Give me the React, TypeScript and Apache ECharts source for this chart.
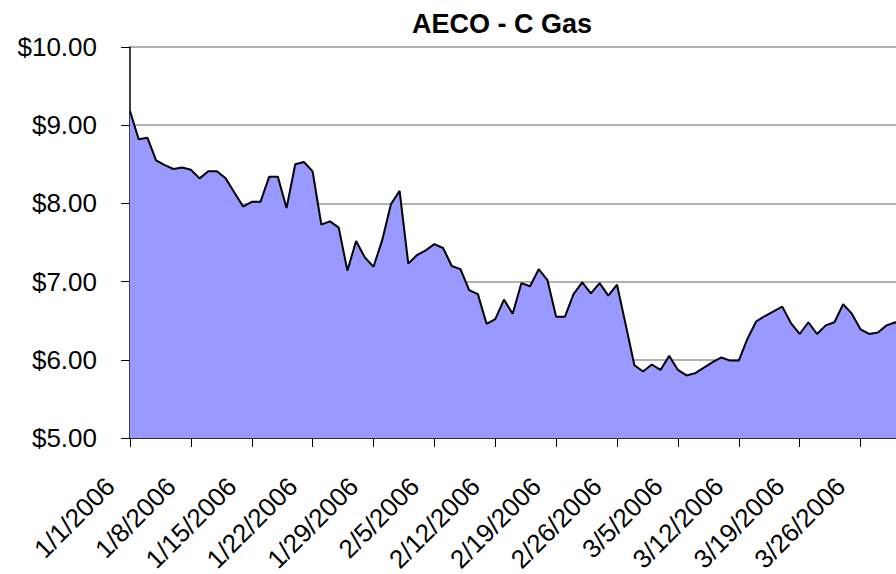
import React, { useEffect, useRef } from "react";
import * as echarts from "echarts";

const TITLE = "AECO - C Gas";
const START = { year: 2006, month: 1, day: 1 };
const MONTH_DAYS = [31, 28, 31];

const categories: string[] = [];
MONTH_DAYS.forEach((n, mi) => {
  for (let d = 1; d <= n; d++) categories.push(`${START.month + mi}/${d}/${START.year}`);
});

const prices = [
  9.18, 8.82, 8.84, 8.55, 8.49, 8.44, 8.46, 8.43, 8.32, 8.41,
  8.41, 8.32, 8.14, 7.96, 8.02, 8.02, 8.34, 8.34, 7.94, 8.5,
  8.53, 8.41, 7.73, 7.77, 7.69, 7.14, 7.52, 7.31, 7.19, 7.53,
  7.99, 8.16, 7.23, 7.34, 7.4, 7.48, 7.43, 7.2, 7.16, 6.89,
  6.84, 6.46, 6.52, 6.77, 6.59, 6.98, 6.94, 7.16, 7.02, 6.55,
  6.55, 6.84, 6.99, 6.85, 6.98, 6.82, 6.96, 6.45, 5.93, 5.85,
  5.94, 5.87, 6.05, 5.87, 5.8, 5.83, 5.9, 5.97, 6.03, 5.99,
  5.99, 6.27, 6.49, 6.56, 6.62, 6.68, 6.47, 6.33, 6.48, 6.33,
  6.44, 6.48, 6.71, 6.59, 6.39, 6.33, 6.35, 6.44, 6.48, 6.42,
];

const Y_MIN = 5;
const Y_MAX = 10;
const Y_STEP = 1;

const FONT = '"Liberation Sans", Arial, sans-serif';

export default function App() {
  const ref = useRef<HTMLDivElement>(null);
  useEffect(() => {
    if (!ref.current) return;
    const chart = echarts.init(ref.current, undefined, { renderer: "svg" });
    chart.setOption({
      animation: false,
      backgroundColor: "#ffffff",
      graphic: [
        {
          type: "text",
          x: 502,
          y: 24,
          style: {
            text: TITLE,
            font: `bold 27px ${FONT}`,
            fill: "#000",
            textAlign: "center",
            textVerticalAlign: "middle",
          },
        },
      ],
      grid: {
        left: 130,
        right: 36,
        top: 47,
        bottom: 136,
        containLabel: false,
        outerBoundsMode: "none",
      },
      xAxis: {
        type: "category",
        data: categories,
        boundaryGap: false,
        axisLine: { show: true, lineStyle: { color: "#000", width: 1.5 } },
        axisTick: { show: true, interval: 6, length: 9, lineStyle: { color: "#000" } },
        axisLabel: {
          interval: 6,
          rotate: 45,
          margin: 24,
          color: "#000",
          fontSize: 26,
          fontFamily: FONT,
          padding: [0, 28, 0, 0],
        },
        splitLine: { show: false },
      },
      yAxis: {
        type: "value",
        min: Y_MIN,
        max: Y_MAX,
        interval: Y_STEP,
        axisLine: { show: true, lineStyle: { color: "#000", width: 1.5 } },
        axisTick: { show: true, length: 9, lineStyle: { color: "#000" } },
        axisLabel: {
          margin: 33,
          color: "#000",
          fontSize: 26,
          fontFamily: FONT,
          formatter: (v: number) => `$${v.toFixed(2)}`,
        },
        splitLine: { show: true, lineStyle: { color: "#999", width: 1.5 } },
      },
      series: [
        {
          type: "line",
          data: prices,
          symbol: "none",
          lineStyle: { color: "#000", width: 2 },
          areaStyle: { color: "#9999ff", opacity: 1, origin: "start" },
        },
      ],
    });
    return () => chart.dispose();
  }, []);
  return (
    <div style={{ position: "fixed", left: 0, top: 0, width: 896, height: 574, overflow: "hidden", background: "#fff" }}>
      <div ref={ref} style={{ width: 940, height: 574 }} />
    </div>
  );
}
